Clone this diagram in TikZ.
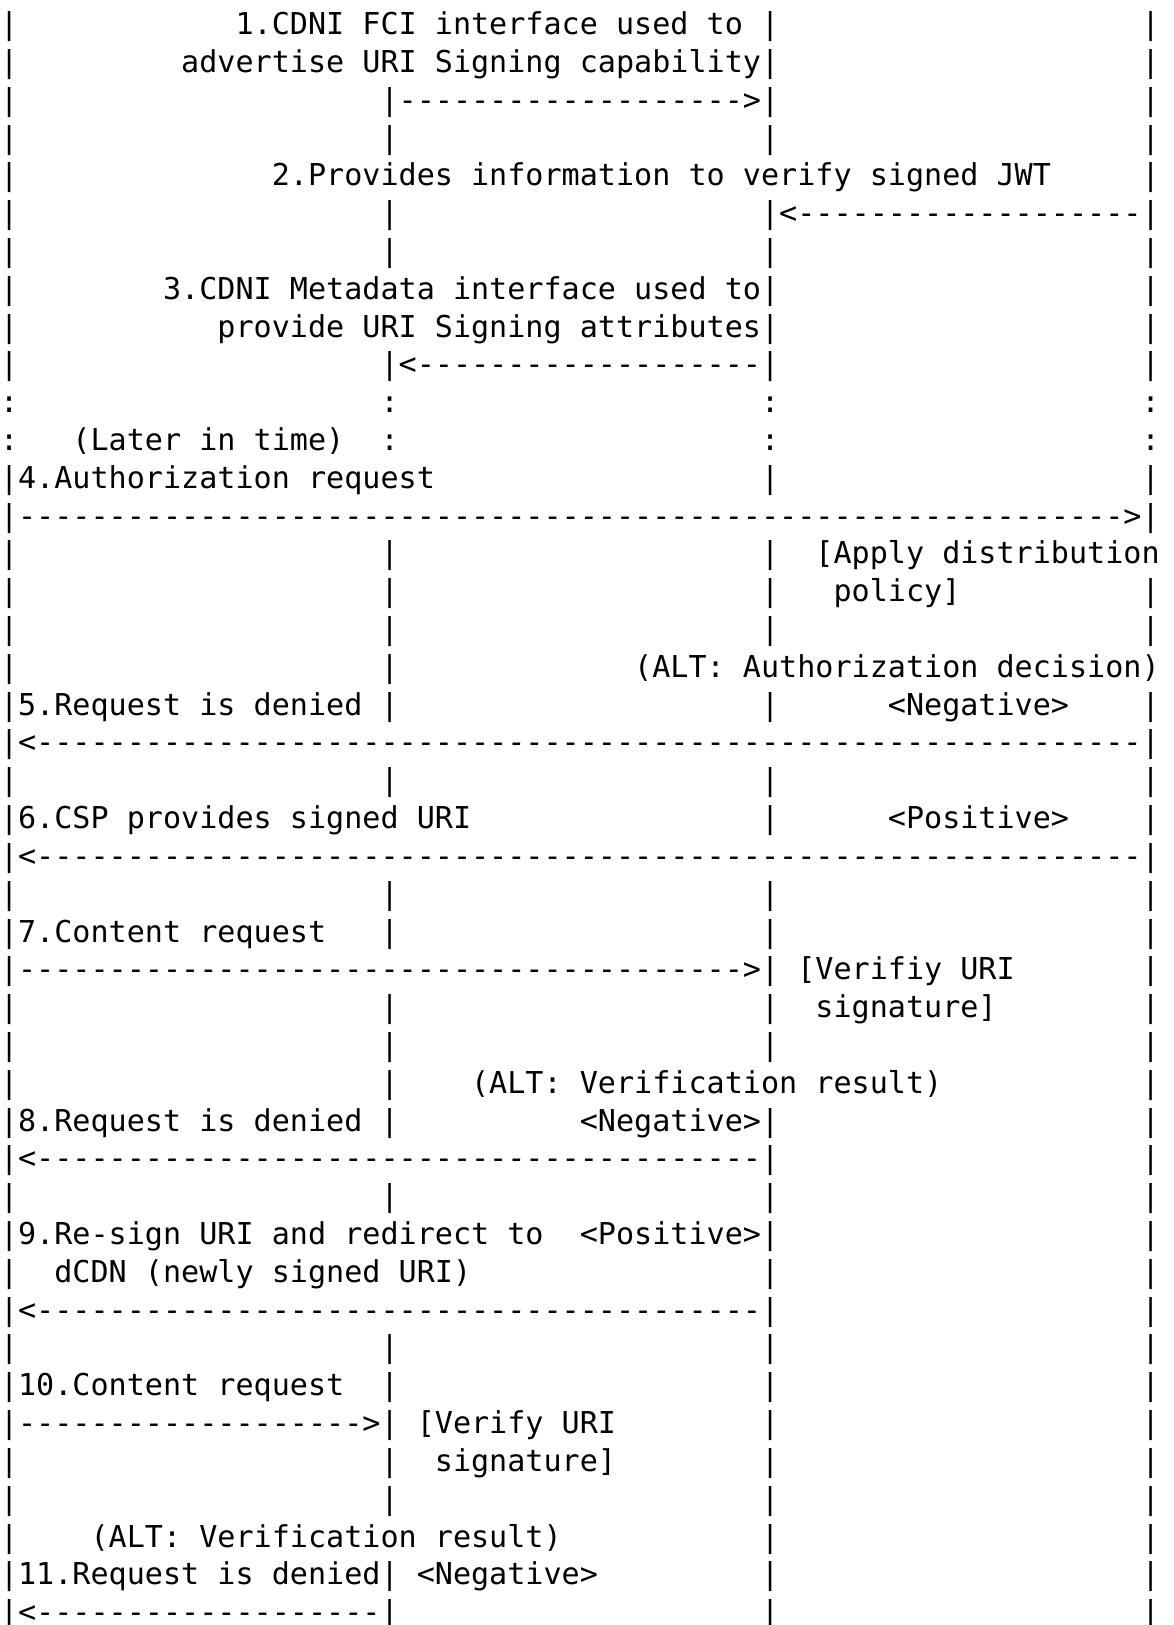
\documentclass[tikz,border=0pt]{standalone}
\usepackage{fontspec}
\setmonofont{DejaVu Sans Mono}
\ExplSyntaxOn
\cs_new:Npn \dashrun #1 { \prg_replicate:nn {#1} {-} }
\ExplSyntaxOff
\tikzset{txt/.style={anchor=base west,inner sep=0pt,outer sep=0pt,
  font=\ttfamily\fontsize{15.05pt}{18.9pt}\selectfont\frenchspacing}}
\newcommand\seg[4]{\node[txt] (#1) at ({#2*18.12},{-(34.6+(#3-1)*37.81)}) {#4};}
\newcommand\barrow[3]{\seg{#1a}{0}{#2}{#3}\seg{#1b}{21}{#2}{#3}\seg{#1c}{42}{#2}{#3}\seg{#1d}{63}{#2}{#3}}
\begin{document}
\begin{tikzpicture}[x=0.5pt,y=0.5pt]
\useasboundingbox[fill=white] (0,0) rectangle (1173,-1625);
% line 1
\seg{l1a}{0}{1}{|}\seg{l1b}{13}{1}{1.CDNI FCI interface used to}\seg{l1c}{42}{1}{|}\seg{l1d}{63}{1}{|}
% line 2
\seg{l2a}{0}{2}{|}\seg{l2b}{10}{2}{advertise URI Signing capability|}\seg{l2c}{63}{2}{|}
% line 3
\seg{l3a}{0}{3}{|}\seg{l3b}{21}{3}{|\dashrun{19}>|}\seg{l3c}{63}{3}{|}
% line 4
\barrow{l4}{4}{|}
% line 5
\seg{l5a}{0}{5}{|}\seg{l5b}{15}{5}{2.Provides information to verify signed JWT}\seg{l5c}{63}{5}{|}
% line 6
\seg{l6a}{0}{6}{|}\seg{l6b}{21}{6}{|}\seg{l6c}{42}{6}{|<\dashrun{19}|}
% line 7
\barrow{l7}{7}{|}
% line 8
\seg{l8a}{0}{8}{|}\seg{l8b}{9}{8}{3.CDNI Metadata interface used to|}\seg{l8c}{63}{8}{|}
% line 9
\seg{l9a}{0}{9}{|}\seg{l9b}{12}{9}{provide URI Signing attributes|}\seg{l9c}{63}{9}{|}
% line 10
\seg{l10a}{0}{10}{|}\seg{l10b}{21}{10}{|<\dashrun{19}|}\seg{l10c}{63}{10}{|}
% line 11
\barrow{l11}{11}{:}
% line 12
\seg{l12a}{0}{12}{:}\seg{l12b}{4}{12}{(Later in time)}\seg{l12c}{21}{12}{:}\seg{l12d}{42}{12}{:}\seg{l12e}{63}{12}{:}
% line 13
\seg{l13a}{0}{13}{|4.Authorization request}\seg{l13b}{42}{13}{|}\seg{l13c}{63}{13}{|}
% line 14
\seg{l14a}{0}{14}{|\dashrun{61}>|}
% line 15
\seg{l15a}{0}{15}{|}\seg{l15b}{21}{15}{|}\seg{l15c}{42}{15}{|}\seg{l15d}{45}{15}{[Apply distribution}
% line 16
\seg{l16a}{0}{16}{|}\seg{l16b}{21}{16}{|}\seg{l16c}{42}{16}{|}\seg{l16d}{46}{16}{policy]}\seg{l16e}{63}{16}{|}
% line 17
\barrow{l17}{17}{|}
% line 18
\seg{l18a}{0}{18}{|}\seg{l18b}{21}{18}{|}\seg{l18c}{35}{18}{(ALT: Authorization decision)}
% line 19
\seg{l19a}{0}{19}{|5.Request is denied |}\seg{l19b}{42}{19}{|}\seg{l19c}{49}{19}{<Negative>}\seg{l19d}{63}{19}{|}
% line 20
\seg{l20a}{0}{20}{|<\dashrun{61}|}
% line 21
\barrow{l21}{21}{|}
% line 22
\seg{l22a}{0}{22}{|6.CSP provides signed URI}\seg{l22b}{42}{22}{|}\seg{l22c}{49}{22}{<Positive>}\seg{l22d}{63}{22}{|}
% line 23
\seg{l23a}{0}{23}{|<\dashrun{61}|}
% line 24
\barrow{l24}{24}{|}
% line 25
\seg{l25a}{0}{25}{|7.Content request}\seg{l25b}{21}{25}{|}\seg{l25c}{42}{25}{|}\seg{l25d}{63}{25}{|}
% line 26
\seg{l26a}{0}{26}{|\dashrun{40}>|}\seg{l26b}{44}{26}{[Verifiy URI}\seg{l26c}{63}{26}{|}
% line 27
\seg{l27a}{0}{27}{|}\seg{l27b}{21}{27}{|}\seg{l27c}{42}{27}{|}\seg{l27d}{45}{27}{signature]}\seg{l27e}{63}{27}{|}
% line 28
\barrow{l28}{28}{|}
% line 29
\seg{l29a}{0}{29}{|}\seg{l29b}{21}{29}{|}\seg{l29c}{26}{29}{(ALT: Verification result)}\seg{l29d}{63}{29}{|}
% line 30
\seg{l30a}{0}{30}{|8.Request is denied |}\seg{l30b}{32}{30}{<Negative>|}\seg{l30c}{63}{30}{|}
% line 31
\seg{l31a}{0}{31}{|<\dashrun{40}|}\seg{l31b}{63}{31}{|}
% line 32
\barrow{l32}{32}{|}
% line 33
\seg{l33a}{0}{33}{|9.Re-sign URI and redirect to}\seg{l33b}{32}{33}{<Positive>|}\seg{l33c}{63}{33}{|}
% line 34
\seg{l34a}{0}{34}{|}\seg{l34b}{3}{34}{dCDN (newly signed URI)}\seg{l34c}{42}{34}{|}\seg{l34d}{63}{34}{|}
% line 35
\seg{l35a}{0}{35}{|<\dashrun{40}|}\seg{l35b}{63}{35}{|}
% line 36
\barrow{l36}{36}{|}
% line 37
\seg{l37a}{0}{37}{|10.Content request}\seg{l37b}{21}{37}{|}\seg{l37c}{42}{37}{|}\seg{l37d}{63}{37}{|}
% line 38
\seg{l38a}{0}{38}{|\dashrun{19}>|}\seg{l38b}{23}{38}{[Verify URI}\seg{l38c}{42}{38}{|}\seg{l38d}{63}{38}{|}
% line 39
\seg{l39a}{0}{39}{|}\seg{l39b}{21}{39}{|}\seg{l39c}{24}{39}{signature]}\seg{l39d}{42}{39}{|}\seg{l39e}{63}{39}{|}
% line 40
\barrow{l40}{40}{|}
% line 41
\seg{l41a}{0}{41}{|}\seg{l41b}{5}{41}{(ALT: Verification result)}\seg{l41c}{42}{41}{|}\seg{l41d}{63}{41}{|}
% line 42
\seg{l42a}{0}{42}{|11.Request is denied|}\seg{l42b}{23}{42}{<Negative>}\seg{l42c}{42}{42}{|}\seg{l42d}{63}{42}{|}
% line 43
\seg{l43a}{0}{43}{|<\dashrun{19}|}\seg{l43b}{42}{43}{|}\seg{l43c}{63}{43}{|}
\end{tikzpicture}
\end{document}
